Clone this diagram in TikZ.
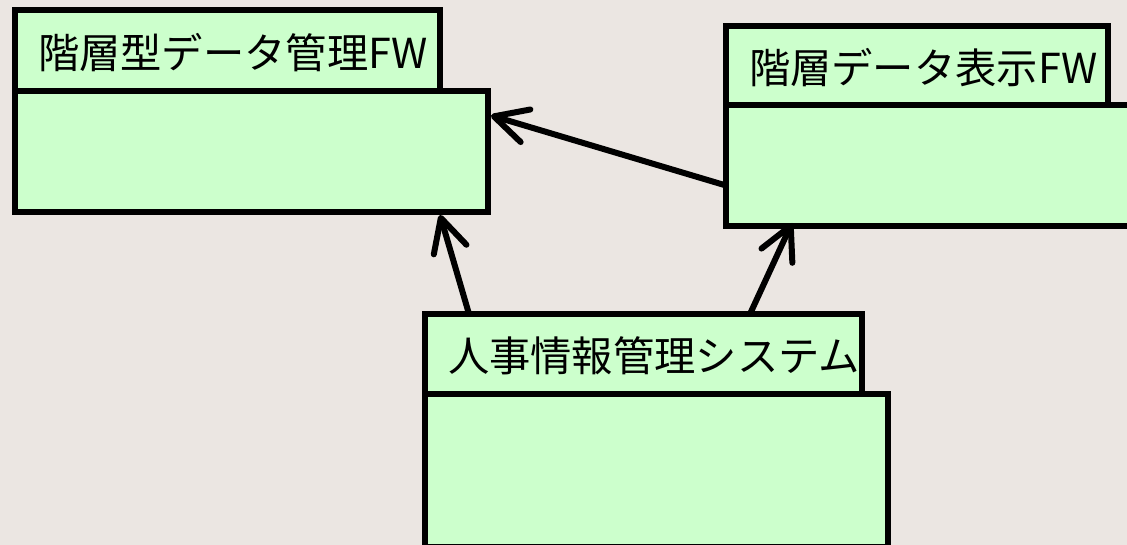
\documentclass[tikz,border=0pt]{standalone}
\usepackage{fontspec}
\usetikzlibrary{arrows.meta}
\newfontfamily\jpfont{Noto Sans CJK JP}
\definecolor{pkgbg}{HTML}{EBE6E2}
\definecolor{pkggreen}{HTML}{CCFFCC}
\tikzset{
  pkgtab/.style={draw, fill=pkggreen, line width=6pt, outer sep=0pt, inner xsep=23pt, inner ysep=0pt, anchor=north west, minimum height=#1, align=left, text depth=0pt, font=\jpfont\fontsize{41.3}{48}\selectfont},
  pkgbody/.style={draw, fill=pkggreen, line width=6pt, outer sep=0pt, inner sep=0pt, anchor=north west},
  dep/.style={line width=6pt, line cap=round, -{Straight Barb[length=33pt,width=34pt,round]}}
}
\begin{document}
\begin{tikzpicture}[x=1pt,y=-1pt]
\clip (0,0) rectangle (1127,545);
\fill[pkgbg] (0,0) rectangle (1127,545);
\node[pkgbody, minimum width=473pt, minimum height=121pt] (hbody) at (15,91) {};
\node[pkgtab=81pt, text width=379pt] (htab) at (15,10) {階層型データ管理FW};
\node[pkgbody, minimum width=420pt, minimum height=121pt] (dbody) at (726,105) {};
\node[pkgtab=79pt, text width=336pt] (dtab) at (726,26) {階層データ表示FW};
\node[pkgbody, minimum width=463pt, minimum height=153pt] (sysbody) at (425,394) {};
\node[pkgtab=80pt, text width=391pt] (systab) at (425,314) {人事情報管理システム};
\draw[dep] ([xshift=44pt]systab.north west) -- ([xshift=425pt,yshift=-3pt]hbody.south west);
\draw[dep] ([xshift=325pt]systab.north west) -- ([xshift=66pt,yshift=3pt]dbody.south west);
\draw[dep] ([yshift=-20pt]dbody.west) -- ([xshift=3pt,yshift=36pt]hbody.east);
\end{tikzpicture}
\end{document}
